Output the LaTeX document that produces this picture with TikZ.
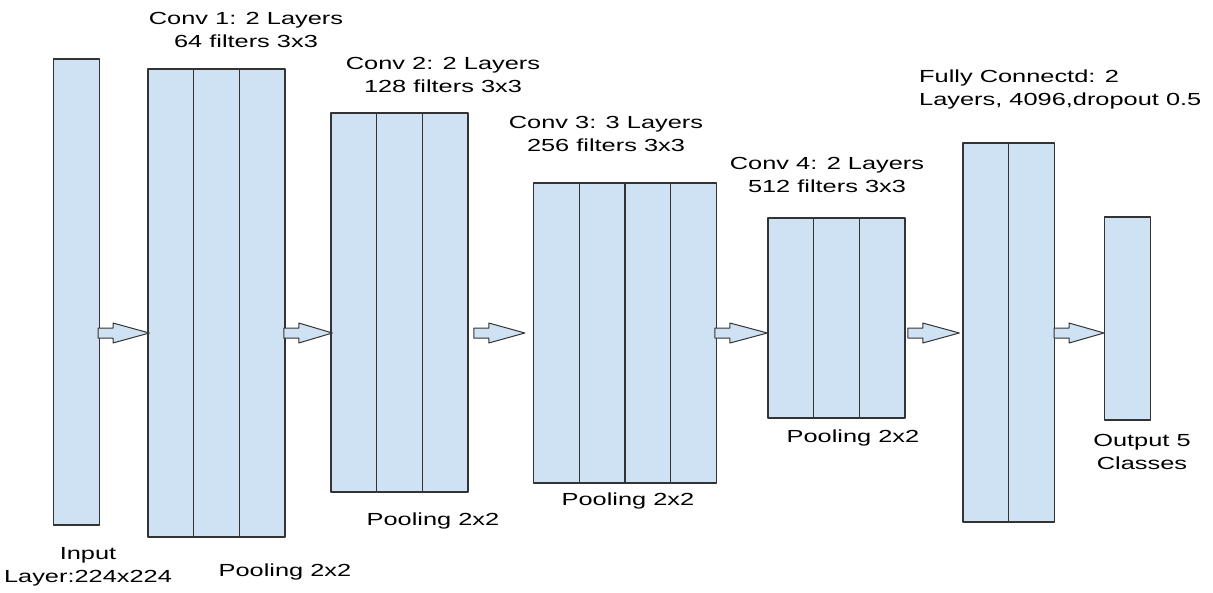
\documentclass[tikz,border=0pt]{standalone}
\usepackage{fontspec}
\setmainfont[FakeStretch=1.45]{Liberation Sans}
\usetikzlibrary{calc}
\definecolor{layerblue}{HTML}{CFE2F3}
\definecolor{edgegray}{HTML}{333333}
% block arrow from (#1) to tip (#2)
\newcommand\flow[2]{\draw[flowarrow] let \p1=(#1), \p2=(#2) in
  (\x1,\y1+5pt) -- (\x1+15pt,\y1+5pt) -- (\x1+15pt,\y1+10pt) -- (\x2,\y2)
  -- (\x1+15pt,\y1-10pt) -- (\x1+15pt,\y1-5pt) -- (\x1,\y1-5pt) -- cycle;}
\begin{document}
\begin{tikzpicture}[x=1pt,y=-1pt,line join=round,
	slice/.style={draw=edgegray,fill=layerblue,line width=1.3pt,inner sep=0pt,minimum width=45.7pt},
	flowarrow/.style={draw=edgegray,fill=layerblue,line width=1pt},
	lbl/.style={font=\fontsize{17.5}{23}\selectfont,align=center,inner sep=0pt}]
	\useasboundingbox (0,0) rectangle (1213,592);
	\def\w{45.7}
	\coordinate (axis) at (0,333);
	% layers
	\node[slice,minimum height=466pt] (in) at (76.5,292) {};
	\foreach \i in {0,1,2} \node[slice,minimum height=468pt] (conva\i) at ({148+\w/2+\i*\w},303) {};
	\foreach \i in {0,1,2} \node[slice,minimum height=379pt] (convb\i) at ({331+\w/2+\i*\w},302.5) {};
	\foreach \i in {0,1,2,3} \node[slice,minimum height=300pt] (convc\i) at ({533.5+\w/2+\i*\w},333) {};
	\foreach \i in {0,1,2} \node[slice,minimum height=200pt] (convd\i) at ({768+\w/2+\i*\w},318) {};
	\foreach \i in {0,1} \node[slice,minimum height=379pt] (fc\i) at ({963+\w/2+\i*\w},332.5) {};
	\node[slice,minimum height=203pt] (out) at (1127.5,318.5) {};
	% arrows
	\flow{$(in.east |- axis)+(-2,0)$}{$(conva0.west |- axis)+(2,0)$}
	\flow{$(conva2.east |- axis)+(-2,0)$}{$(convb0.west |- axis)+(2,0)$}
	\flow{$(convb2.east |- axis)+(5,0)$}{$(convc0.west |- axis)+(-8,0)$}
	\flow{$(convc3.east |- axis)+(-2,0)$}{$(convd0.west |- axis)$}
	\flow{$(convd2.east |- axis)+(2,0)$}{$(fc0.west |- axis)+(-3,0)$}
	\flow{$(fc1.east |- axis)+(-1,0)$}{$(out.west |- axis)$}
	% labels
	\node[lbl] (convatxt) at (246,29.5) {Conv 1: 2 Layers\\64 filters 3x3};
	\node[lbl] (convbtxt) at (443,75) {Conv 2: 2 Layers\\128 filters 3x3};
	\node[lbl] (convctxt) at (606,133.5) {Conv 3: 3 Layers\\256 filters 3x3};
	\node[lbl] (convdtxt) at (827,174.5) {Conv 4: 2 Layers\\512 filters 3x3};
	\node[lbl,align=left,anchor=west] (fctxt) at (919,89) {Fully Connectd: 2\\Layers, 4096,dropout 0.5};
	\node[lbl] (intxt) at (88,567) {Input\\Layer:224x224};
	\node[lbl] (outtxt) at (1142,452) {Output 5\\Classes};
	\node[lbl] (poola) at (285,572) {Pooling 2x2};
	\node[lbl] (poolb) at (433,521) {Pooling 2x2};
	\node[lbl] (poolc) at (628,501) {Pooling 2x2};
	\node[lbl] (poold) at (853,438) {Pooling 2x2};
\end{tikzpicture}
\end{document}
